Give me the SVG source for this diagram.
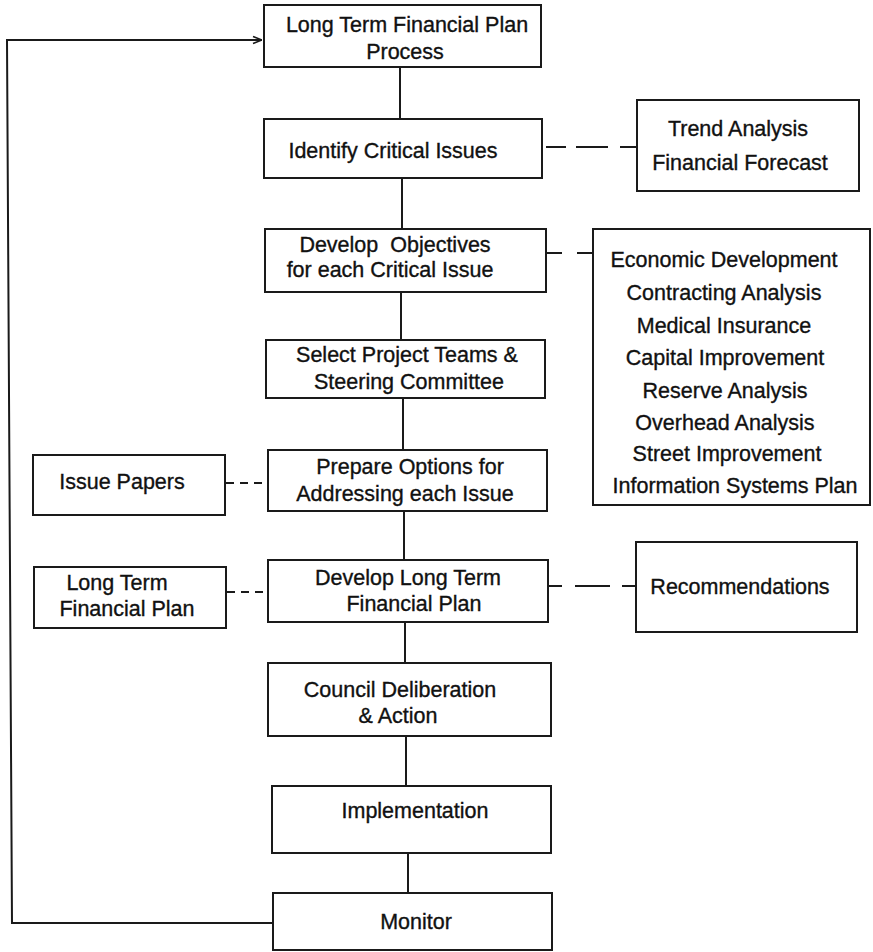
<svg xmlns="http://www.w3.org/2000/svg" width="873" height="952" viewBox="0 0 873 952">
<defs>
<style>
.box{fill:#fff;stroke:#1a1a1a;stroke-width:2}
.t{font-family:"Liberation Sans",Arial,sans-serif;font-size:21.5px;fill:#111;stroke:#111;stroke-width:0.35;text-anchor:middle;white-space:pre}
.ln{fill:none;stroke:#1a1a1a;stroke-width:2}
.ds{fill:none;stroke:#1a1a1a;stroke-width:1.8;stroke-dasharray:8 6}
</style>
<marker id="arr" viewBox="0 0 10 10" refX="10" refY="5" markerWidth="10" markerHeight="10" markerUnits="userSpaceOnUse" orient="auto">
<path d="M1 1.5 L10 5 L1 8.5" fill="none" stroke="#1a1a1a" stroke-width="1.5"/>
</marker>
</defs>
<rect width="873" height="952" fill="#fff"/>
<g id="connectors">
<path class="ln" d="M400 67 V119"/>
<path class="ln" d="M402 178 V229"/>
<path class="ln" d="M401 292 V340"/>
<path class="ln" d="M403 398 V450"/>
<path class="ln" d="M404 511 V560"/>
<path class="ln" d="M405 622 V663"/>
<path class="ln" d="M406 736 V786"/>
<path class="ln" d="M408 853 V893"/>
<path class="ln" d="M273 923 H12 L7 40 H262" marker-end="url(#arr)"/>
<path class="ln" d="M546 147 H566 M576 147 H608 M620 147 H637"/>
<path class="ln" d="M546 253 H562 M577 253 H593"/>
<path class="ds" d="M226 483 H268"/>
<path class="ds" d="M227 592 H268"/>
<path class="ln" d="M549 586 H562 M575 586 H610 M622 586 H636"/>
</g>
<g id="n1"><rect class="box" x="264" y="5" width="277" height="62"/>
<text class="t" x="407" y="32">Long Term Financial Plan</text><text class="t" x="405" y="59">Process</text></g>
<g id="n2"><rect class="box" x="264" y="119" width="278" height="59"/>
<text class="t" x="393" y="158">Identify Critical Issues</text></g>
<g id="n3"><rect class="box" x="265" y="229" width="281" height="63"/>
<text class="t" x="395" y="252">Develop  Objectives</text><text class="t" x="390" y="277">for each Critical Issue</text></g>
<g id="n4"><rect class="box" x="266" y="340" width="279" height="58"/>
<text class="t" x="407" y="362">Select Project Teams &amp;</text><text class="t" x="409" y="389">Steering Committee</text></g>
<g id="n5"><rect class="box" x="268" y="450" width="279" height="61"/>
<text class="t" x="410" y="474">Prepare Options for</text><text class="t" x="405" y="501">Addressing each Issue</text></g>
<g id="n6"><rect class="box" x="268" y="560" width="280" height="62"/>
<text class="t" x="408" y="585">Develop Long Term</text><text class="t" x="414" y="611">Financial Plan</text></g>
<g id="n7"><rect class="box" x="268" y="663" width="283" height="73"/>
<text class="t" x="400" y="697">Council Deliberation</text><text class="t" x="398" y="723">&amp; Action</text></g>
<g id="n8"><rect class="box" x="272" y="786" width="279" height="67"/>
<text class="t" x="415" y="818">Implementation</text></g>
<g id="n9"><rect class="box" x="273" y="893" width="279" height="57"/>
<text class="t" x="416" y="929">Monitor</text></g>
<g id="trend"><rect class="box" x="637" y="100" width="222" height="91"/>
<text class="t" x="738" y="136">Trend Analysis</text><text class="t" x="740" y="170">Financial Forecast</text></g>
<g id="studies"><rect class="box" x="593" y="229" width="277" height="276"/>
<text class="t" x="724" y="267">Economic Development</text>
<text class="t" x="724" y="300">Contracting Analysis</text>
<text class="t" x="724" y="333">Medical Insurance</text>
<text class="t" x="725" y="365">Capital Improvement</text>
<text class="t" x="725" y="398">Reserve Analysis</text>
<text class="t" x="725" y="430">Overhead Analysis</text>
<text class="t" x="727" y="461">Street Improvement</text>
<text class="t" x="735" y="493">Information Systems Plan</text></g>
<g id="issuepapers"><rect class="box" x="33" y="455" width="192" height="60"/>
<text class="t" x="122" y="489">Issue Papers</text></g>
<g id="ltfp"><rect class="box" x="34" y="567" width="192" height="61"/>
<text class="t" x="117" y="590">Long Term</text><text class="t" x="127" y="616">Financial Plan</text></g>
<g id="recs"><rect class="box" x="636" y="542" width="221" height="90"/>
<text class="t" x="740" y="594">Recommendations</text></g>
</svg>
